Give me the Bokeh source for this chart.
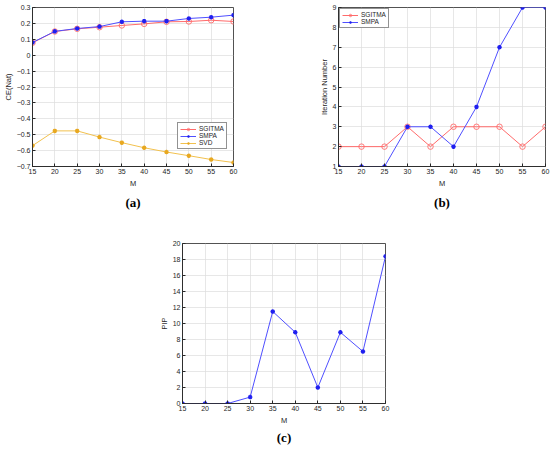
from bokeh.plotting import figure
from bokeh.models import FixedTicker, Legend, LegendItem, Title, Spacer
from bokeh.layouts import column, row
from bokeh.embed import file_html
from bokeh.resources import INLINE

# ---- data ----
M = [15, 20, 25, 30, 35, 40, 45, 50, 55, 60]

ce_sgitma = [0.078, 0.149, 0.166, 0.176, 0.187, 0.197, 0.210, 0.212, 0.220, 0.212]
ce_smpa = [0.080, 0.150, 0.168, 0.180, 0.210, 0.214, 0.214, 0.231, 0.239, 0.252]
ce_svd = [-0.569, -0.476, -0.476, -0.515, -0.550, -0.582, -0.609, -0.632, -0.656, -0.675]

it_sgitma = [2, 2, 2, 3, 2, 3, 3, 3, 2, 3]
it_smpa = [1, 1, 1, 3, 3, 2, 4, 7, 9, 9]

pip = [0, 0, 0, 0.8, 11.5, 8.9, 2.0, 8.9, 6.5, 18.4]

x_ticks = M
ce_ticks = [-0.7, -0.6, -0.5, -0.4, -0.3, -0.2, -0.1, 0.0, 0.1, 0.2, 0.3]
ce_tick_labels = ["\u22120.7", "\u22120.6", "\u22120.5", "\u22120.4", "\u22120.3", "\u22120.2",
                  "\u22120.1", "0", "0.1", "0.2", "0.3"]
it_ticks = [1, 2, 3, 4, 5, 6, 7, 8, 9]
pip_ticks = [0, 2, 4, 6, 8, 10, 12, 14, 16, 18, 20]

RED = "#ff6b6b"
BLUE = "#4f4fff"
BLUE_M = "#1f1ff0"
YEL = "#f2c14e"
YEL_M = "#e8a820"
FONT = "Liberation Sans"
TXT = "#262626"


def style(p, xlabel, ylabel, yticks):
    p.outline_line_color = TXT
    p.outline_line_width = 0.8
    p.xaxis.ticker = FixedTicker(ticks=x_ticks)
    p.yaxis.ticker = FixedTicker(ticks=yticks)
    p.xaxis.axis_label = xlabel
    p.yaxis.axis_label = ylabel
    for ax in (p.xaxis[0], p.yaxis[0]):
        ax.axis_line_color = TXT
        ax.axis_line_width = 0.8
        ax.major_tick_in = 3
        ax.major_tick_out = 0
        ax.minor_tick_in = 0
        ax.minor_tick_out = 0
        ax.major_tick_line_color = TXT
        ax.major_label_text_font = FONT
        ax.major_label_text_font_size = "7px"
        ax.major_label_text_color = TXT
        ax.axis_label_text_font = FONT
        ax.axis_label_text_font_size = "7.5px"
        ax.axis_label_text_font_style = "normal"
        ax.axis_label_text_color = TXT
        ax.major_label_standoff = 2
        ax.axis_label_standoff = 2
    p.yaxis.axis_label_standoff = 1
    p.grid.grid_line_color = "#dcdcdc"
    p.grid.grid_line_width = 0.7
    p.background_fill_color = "white"
    p.border_fill_color = "white"


def caption(p, txt, standoff):
    t = Title(text=txt, align="center", text_font="Liberation Serif",
              text_font_size="13px", text_font_style="bold", text_color="black",
              standoff=standoff)
    p.add_layout(t, "below")


def legend(p, items, loc):
    lg = Legend(items=items, location=loc, label_text_font=FONT,
                label_text_font_size="6.5px", label_text_color=TXT,
                glyph_width=16, glyph_height=6, label_height=6, label_standoff=3,
                spacing=0, padding=2, margin=1,
                border_line_color=TXT, border_line_width=0.7,
                background_fill_color="white", background_fill_alpha=1.0)
    p.add_layout(lg)


# ---- (a) ----
pa = figure(width=278, height=222, output_backend="svg", toolbar_location=None,
            x_range=(15, 60), y_range=(-0.7, 0.3),
            min_border_left=29, min_border_right=45, min_border_top=7, min_border_bottom=56)
style(pa, "M", "CE(Nat)", ce_ticks)
pa.yaxis.major_label_overrides = dict(zip(ce_ticks, ce_tick_labels))
a1l = pa.line(M, ce_sgitma, line_color=RED, line_width=1)
a1m = pa.scatter(M, ce_sgitma, marker="circle", size=5.5, line_color=RED, fill_color=None, line_width=0.9)
a2l = pa.line(M, ce_smpa, line_color=BLUE, line_width=1)
a2m = pa.scatter(M, ce_smpa, marker="asterisk", size=4.5, line_color=BLUE_M, line_width=1.3)
a3l = pa.line(M, ce_svd, line_color=YEL, line_width=1)
a3m = pa.scatter(M, ce_svd, marker="asterisk", size=4.5, line_color=YEL_M, line_width=1.3)
legend(pa, [LegendItem(label="SGITMA", renderers=[a1l, a1m]),
            LegendItem(label="SMPA", renderers=[a2l, a2m]),
            LegendItem(label="SVD", renderers=[a3l, a3m])], (145, 17))
caption(pa, "(a)", 4)

# ---- (b) ----
pb = figure(width=272, height=222, output_backend="svg", toolbar_location=None,
            x_range=(15, 60), y_range=(1, 9),
            min_border_left=60, min_border_right=5, min_border_top=7, min_border_bottom=56)
style(pb, "M", "Iteration Number", it_ticks)
b1l = pb.line(M, it_sgitma, line_color=RED, line_width=1)
b1m = pb.scatter(M, it_sgitma, marker="circle", size=5.5, line_color=RED, fill_color=None, line_width=0.9)
b2l = pb.line(M, it_smpa, line_color=BLUE, line_width=1)
b2m = pb.scatter(M, it_smpa, marker="asterisk", size=4.5, line_color=BLUE_M, line_width=1.3)
legend(pb, [LegendItem(label="SGITMA", renderers=[b1l, b1m]),
            LegendItem(label="SMPA", renderers=[b2l, b2m])], "top_left")
caption(pb, "(b)", 4)

# ---- (c) ----
pc = figure(width=260, height=229, output_backend="svg", toolbar_location=None,
            x_range=(15, 60), y_range=(0, 20),
            min_border_left=42, min_border_right=15, min_border_top=21, min_border_bottom=48)
style(pc, "M", "PIP", pip_ticks)
pc.line(M, pip, line_color=BLUE, line_width=1)
pc.scatter(M, pip, marker="asterisk", size=4.5, line_color=BLUE_M, line_width=1.3)
caption(pc, "(c)", 0)

layout = column(row(pa, pb), row(Spacer(width=140, height=229), pc))

open("out.html", "w").write(file_html(layout, INLINE))
